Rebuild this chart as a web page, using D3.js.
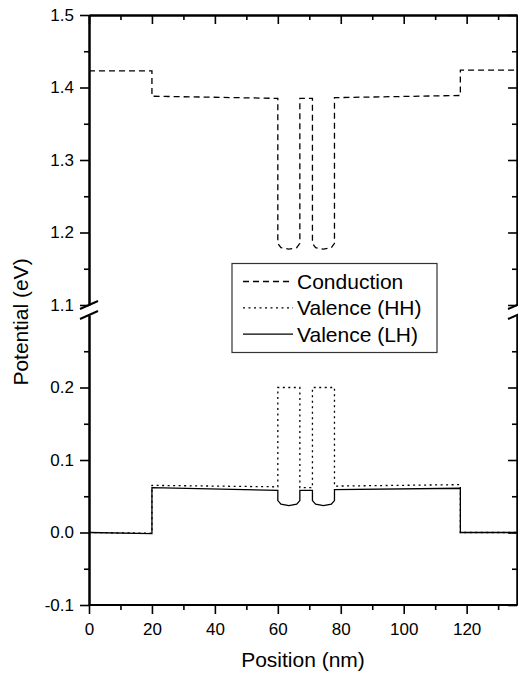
<!DOCTYPE html>
<html>
<head>
<meta charset="utf-8">
<script src="https://cdn.jsdelivr.net/npm/d3@7"></script>
<style>
body { margin: 0; background: #fff; }
text { font-family: "Liberation Sans", Arial, sans-serif; fill: #000; }
</style>
</head>
<body>
<svg id="chart" width="518" height="675"></svg>
<script>
// Data =====================================================================
var conduction = [
	[0, 1.423], [20, 1.423], [20, 1.388], [60, 1.385],
	[60, 1.185], [61, 1.179], [63.5, 1.177], [66, 1.179], [67, 1.185],
	[67, 1.385], [71, 1.385],
	[71, 1.185], [72, 1.179], [74.5, 1.177], [77, 1.179], [78, 1.185],
	[78, 1.386], [118, 1.389], [118, 1.424], [136, 1.424]
];

var valenceHH = [
	[0, 0.0], [20, -0.001], [20, 0.065], [60, 0.063],
	[60, 0.2], [67, 0.2], [67, 0.062], [71, 0.062],
	[71, 0.2], [78, 0.2], [78, 0.064], [118, 0.066],
	[118, 0.0], [136, 0.0]
];

var valenceLH = [
	[0, 0.0], [20, -0.0015], [20, 0.062], [60, 0.058],
	[60, 0.044], [61, 0.039], [63.5, 0.037], [66, 0.039], [67, 0.044],
	[67, 0.058], [71, 0.058],
	[71, 0.044], [72, 0.039], [74.5, 0.037], [77, 0.039], [78, 0.044],
	[78, 0.059], [118, 0.061], [118, 0.0], [136, 0.0]
];

var xMajor = [0, 20, 40, 60, 80, 100, 120];
var xMinor = [10, 30, 50, 70, 90, 110, 130];
var yTopMajor = [1.1, 1.2, 1.3, 1.4, 1.5];
var yTopMinor = [1.15, 1.25, 1.35, 1.45];
var yBotMajor = [-0.1, 0.0, 0.1, 0.2];
var yBotMinor = [-0.05, 0.05, 0.15, 0.25];

var legendNames = ["Conduction", "Valence (HH)", "Valence (LH)"];

// Layout ===================================================================
var plotLeft = 89, plotRight = 517, plotTop = 15, plotBottom = 605;
var gap = 10;
var mid = (plotTop + plotBottom) / 2;
var majorLen = 9, minorLen = 5;
var fmt = function(d) { return d.toFixed(1); };

var svg = d3.select("#chart");

// Scales ===================================================================
var xScale = d3.scaleLinear().domain([0, 136]).range([plotLeft, plotRight]);
var yTop = d3.scaleLinear().domain([1.1, 1.5]).range([mid - gap / 2, plotTop]);
var yBot = d3.scaleLinear().domain([-0.1, 0.3]).range([plotBottom, mid + gap / 2]);

// Axes =====================================================================
function addAxis(axis, tx, ty, showText) {
	var g = svg.append("g")
		.attr("transform", "translate(" + tx + "," + ty + ")")
		.call(axis);
	g.selectAll("line").attr("stroke", "#000").attr("stroke-width", 1.6);
	g.select(".domain").attr("stroke", "#000").attr("stroke-width", 2);
	if (!showText) g.selectAll("text").remove();
	return g;
}

// bottom
var gx = addAxis(d3.axisBottom(xScale).tickValues(xMajor).tickSize(majorLen).tickSizeOuter(0), 0, plotBottom, true);
gx.selectAll("text").attr("y", 17.5).attr("font-size", 17);
gx.select(".domain").remove();
addAxis(d3.axisBottom(xScale).tickValues(xMinor).tickSize(minorLen).tickSizeOuter(0), 0, plotBottom, false)
	.select(".domain").remove();

// top
addAxis(d3.axisTop(xScale).tickValues(xMajor).tickSize(-majorLen).tickSizeOuter(0), 0, plotTop, false);
addAxis(d3.axisTop(xScale).tickValues(xMinor).tickSize(-minorLen).tickSizeOuter(0), 0, plotTop, false);

// left and right, both panels
[[yTop, yTopMajor, yTopMinor], [yBot, yBotMajor, yBotMinor]].forEach(function(p) {
	var ga = addAxis(d3.axisLeft(p[0]).tickValues(p[1]).tickSize(majorLen).tickPadding(6)
		.tickSizeOuter(0).tickFormat(fmt), plotLeft, 0, true);
	ga.selectAll("text").attr("font-size", 17);
	addAxis(d3.axisLeft(p[0]).tickValues(p[2]).tickSize(minorLen).tickSizeOuter(0), plotLeft, 0, false);

	addAxis(d3.axisRight(p[0]).tickValues(p[1]).tickSize(-majorLen).tickSizeOuter(0), plotRight, 0, false);
	addAxis(d3.axisRight(p[0]).tickValues(p[2]).tickSize(-minorLen).tickSizeOuter(0), plotRight, 0, false);
});

svg.append("line")
	.attr("x1", plotLeft).attr("x2", plotRight)
	.attr("y1", plotBottom).attr("y2", plotBottom)
	.attr("stroke", "#000").attr("stroke-width", 2);

// Axis break marks =========================================================
[plotLeft, plotRight].forEach(function(x) {
	[yTop(1.1), yBot(0.3)].forEach(function(y) {
		svg.append("line")
			.attr("x1", x - 9).attr("y1", y + 4)
			.attr("x2", x + 9).attr("y2", y - 4)
			.attr("stroke", "#000").attr("stroke-width", 2);
	});
});

// Lines ====================================================================
var topLine = d3.line()
	.x(function(d) { return xScale(d[0]); })
	.y(function(d) { return yTop(d[1]); });

var botLine = d3.line()
	.x(function(d) { return xScale(d[0]); })
	.y(function(d) { return yBot(d[1]); });

var dashes = ["6,4", "2,3.5", null];

svg.append("path")
	.datum(conduction)
	.attr("d", topLine)
	.attr("fill", "none").attr("stroke", "#000").attr("stroke-width", 1.3)
	.attr("stroke-dasharray", dashes[0]);

svg.append("path")
	.datum(valenceHH)
	.attr("d", botLine)
	.attr("fill", "none").attr("stroke", "#000").attr("stroke-width", 1.3)
	.attr("stroke-dasharray", dashes[1]);

svg.append("path")
	.datum(valenceLH)
	.attr("d", botLine)
	.attr("fill", "none").attr("stroke", "#000").attr("stroke-width", 1.3);

// Legend ===================================================================
var legend = svg.append("g").attr("transform", "translate(232,263.5)");

legend.append("rect")
	.attr("width", 205).attr("height", 89)
	.attr("fill", "#fff").attr("stroke", "#333").attr("stroke-width", 1.2);

legend.selectAll("g.item")
	.data(legendNames)
	.enter()
	.append("g")
	.attr("class", "item")
	.attr("transform", function(d, i) { return "translate(0," + (18 + i * 26.3) + ")"; })
	.each(function(d, i) {
		var g = d3.select(this);
		g.append("line")
			.attr("x1", 11).attr("x2", 61)
			.attr("stroke", "#000").attr("stroke-width", 1.3)
			.attr("stroke-dasharray", dashes[i]);
		g.append("text")
			.attr("x", 65).attr("y", 7.5)
			.attr("font-size", 21)
			.text(d);
	});

// Titles ===================================================================
svg.append("text")
	.attr("x", (plotLeft + plotRight) / 2).attr("y", 667)
	.attr("text-anchor", "middle")
	.attr("font-size", 21)
	.text("Position (nm)");

svg.append("text")
	.attr("transform", "translate(28,322) rotate(-90)")
	.attr("text-anchor", "middle")
	.attr("font-size", 21)
	.text("Potential (eV)");
</script>
</body>
</html>
